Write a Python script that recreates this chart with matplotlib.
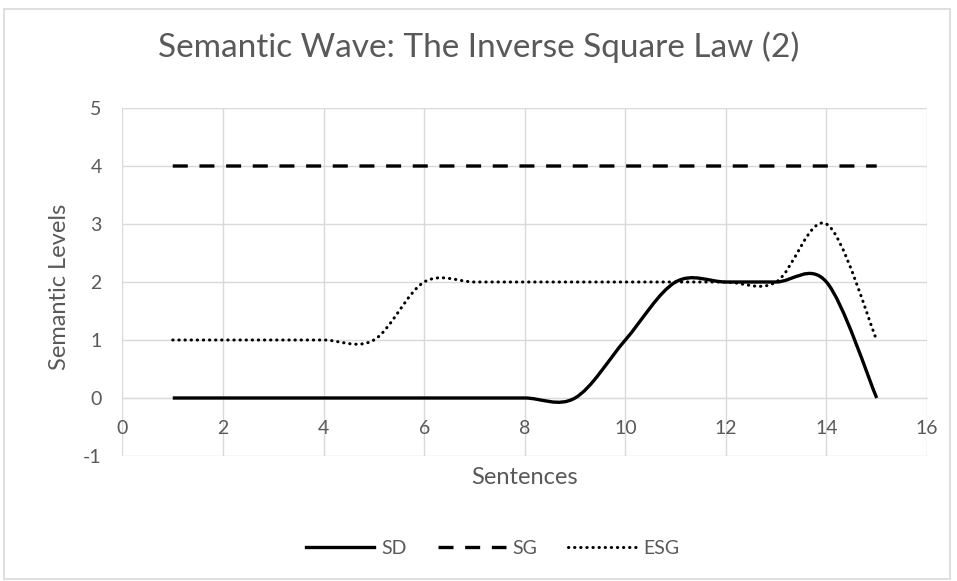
import numpy as np
import matplotlib
matplotlib.use("Agg")
import matplotlib.pyplot as plt
from matplotlib.path import Path
from matplotlib.patches import PathPatch, Rectangle
from matplotlib.lines import Line2D

# data
sentences = [1, 2, 3, 4, 5, 6, 7, 8, 9, 10, 11, 12, 13, 14, 15]
sd = [0, 0, 0, 0, 0, 0, 0, 0, 0, 1, 2, 2, 2, 2, 0]
sg = [4, 4, 4, 4, 4, 4, 4, 4, 4, 4, 4, 4, 4, 4, 4]
esg = [1, 1, 1, 1, 1, 2, 2, 2, 2, 2, 2, 2, 2, 3, 1]

TEXT = "#595959"
GRID = "#d9d9d9"
plt.rcParams['font.family'] = ["Lato", "DejaVu Sans"]
plt.rcParams['axes.unicode_minus'] = False


def smooth_path(xs, ys):
    # Excel-style smoothed line: cubic Bezier segments (Catmull-Rom, tension 1/6)
    pts = np.column_stack([xs, ys]).astype(float)
    n = len(pts)
    verts = [pts[0]]
    codes = [Path.MOVETO]
    for i in range(n - 1):
        p0 = pts[i - 1] if i > 0 else pts[i]
        p1 = pts[i]
        p2 = pts[i + 1]
        p3 = pts[i + 2] if i + 2 < n else pts[i + 1]
        c1 = p1 + (p2 - p0) / 6.0
        c2 = p2 - (p3 - p1) / 6.0
        verts += [c1, c2, p2]
        codes += [Path.CURVE4] * 3
    return Path(verts, codes)


fig = plt.figure(figsize=(9.57, 5.81), dpi=100)
ax = fig.add_axes([122.5 / 957, 1 - 456 / 581, (927 - 122.5) / 957, (456 - 108) / 581])

styles = {
    'SD': dict(linestyle='-', lw=2.4),
    'SG': dict(linestyle=(0, (4.5, 3.5)), lw=2.4),
    'ESG': dict(linestyle=(0, (0.1, 1.9)), lw=2.2),
}

for name, ys in [('SD', sd), ('SG', sg), ('ESG', esg)]:
    st = styles[name]
    patch = PathPatch(smooth_path(sentences, ys), fill=False, edgecolor='black',
                      linewidth=st['lw'], linestyle=st['linestyle'],
                      capstyle='round' if name == 'ESG' else 'butt', zorder=3)
    ax.add_patch(patch)

ax.set_xlim(0, 16)
ax.set_ylim(-1, 5)
ax.set_xticks(range(0, 17, 2))
ax.set_yticks(range(-1, 6))
ax.grid(True, color=GRID, lw=1)
ax.set_axisbelow(True)
for side in ['top', 'right', 'left']:
    ax.spines[side].set_visible(False)
ax.spines['bottom'].set_position(('data', 0))
ax.spines['bottom'].set_color(GRID)
ax.tick_params(length=0, labelsize=14, colors=TEXT)
ax.tick_params(axis='x', pad=16)
ax.tick_params(axis='y', pad=15)

fig.text(0.5, 1 - 47 / 581, "Semantic Wave: The Inverse Square Law (2)", ha='center', va='center',
         fontsize=24, color=TEXT)
fig.text(525 / 957, 1 - 478 / 581, "Sentences", ha='center', va='center', fontsize=17, color=TEXT)
fig.text(60 / 957, 1 - 287 / 581, "Semantic Levels", ha='center', va='center', rotation=90,
         fontsize=17, color=TEXT)

handles = [Line2D([], [], color='black', lw=2.4, linestyle='-'),
           Line2D([], [], color='black', lw=2.4, linestyle=(0, (4.5, 3.5))),
           Line2D([], [], color='black', lw=2.2, linestyle=(0, (0.1, 1.9)), dash_capstyle='round')]
leg = fig.legend(handles, ['SD', 'SG', 'ESG'], loc='center', bbox_to_anchor=(0.515, 1 - 548 / 581),
                 ncol=3, frameon=False, fontsize=14, handlelength=3.5, columnspacing=1.6,
                 handletextpad=0.35)
for t in leg.get_texts():
    t.set_color(TEXT)

fig.patches.append(Rectangle((4 / 957, 0.004), 946 / 957, 1 - 9 / 581 - 0.004,
                             transform=fig.transFigure, fill=False, edgecolor=GRID, lw=1.2))

fig.savefig("out.png", dpi=100, facecolor='white')
